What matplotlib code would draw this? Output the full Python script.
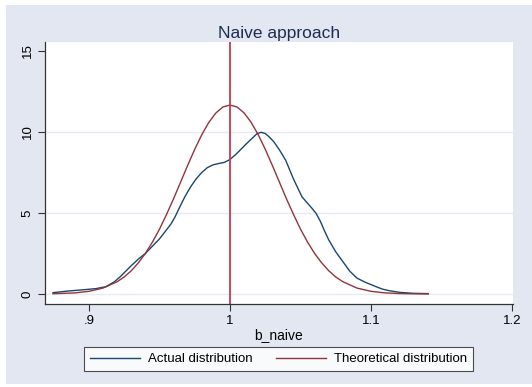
import numpy as np
import matplotlib
matplotlib.use('Agg')
from matplotlib import pyplot as plt
from matplotlib.patches import Rectangle

# 数据
actual_x = [0.8745, 0.885, 0.895, 0.905, 0.912, 0.918, 0.922, 0.926, 0.930, 0.935,
            0.940, 0.945, 0.950, 0.954, 0.958, 0.961, 0.964, 0.968, 0.972, 0.976,
            0.980, 0.984, 0.988, 0.992, 0.996, 1.000, 1.004, 1.008, 1.012, 1.015,
            1.019, 1.022, 1.025, 1.0277, 1.031, 1.035, 1.0395, 1.045, 1.048, 1.051,
            1.055, 1.058, 1.061, 1.064, 1.067, 1.070, 1.075, 1.080, 1.085, 1.090,
            1.096, 1.103, 1.108, 1.113, 1.120, 1.130, 1.1406]
actual_y = [0.08, 0.18, 0.25, 0.33, 0.45, 0.75, 1.05, 1.4, 1.75, 2.15,
            2.5, 2.95, 3.4, 3.85, 4.3, 4.75, 5.3, 6.0, 6.6, 7.1,
            7.5, 7.8, 7.97, 8.05, 8.12, 8.3, 8.6, 8.95, 9.3, 9.55,
            9.88, 9.98, 9.9, 9.7, 9.4, 8.9, 8.25, 7.1, 6.55, 6.0,
            5.6, 5.3, 4.98, 4.5, 3.9, 3.34, 2.6, 2.0, 1.4, 0.98,
            0.72, 0.47, 0.3, 0.2, 0.1, 0.04, 0.02]

theory_x = [0.8745, 0.89, 0.90, 0.91, 0.92, 0.925, 0.93, 0.935, 0.94, 0.945,
            0.95, 0.955, 0.96, 0.965, 0.97, 0.975, 0.98, 0.985, 0.99, 0.995,
            1.00, 1.005, 1.01, 1.015, 1.02, 1.025, 1.03, 1.035, 1.04, 1.045,
            1.05, 1.055, 1.06, 1.065, 1.07, 1.075, 1.08, 1.09, 1.10, 1.11,
            1.12, 1.13, 1.1406]
theory_y = [0.015, 0.066, 0.162, 0.365, 0.756, 1.05, 1.435, 1.92, 2.50, 3.20,
            4.00, 4.91, 5.88, 6.91, 7.94, 8.93, 9.83, 10.59, 11.17, 11.54,
            11.66, 11.54, 11.17, 10.59, 9.83, 8.93, 7.94, 6.91, 5.88, 4.91,
            4.00, 3.20, 2.50, 1.92, 1.435, 1.05, 0.756, 0.365, 0.162, 0.066,
            0.025, 0.008, 0.002]

x_ticks = [0.9, 1.0, 1.1, 1.2]
x_ticklabels = ['.9', '1', '1.1', '1.2']
y_ticks = [0, 5, 10, 15]
xline = 1.0

plt.rcParams['font.family'] = ['Liberation Sans', 'DejaVu Sans']

W, H = 532, 387
fig = plt.figure(figsize=(W / 100, H / 100), dpi=100)
fig.patch.set_facecolor('white')
bg = '#e2e7f1'
fig.patches.append(Rectangle((6 / W, 3 / H), 1 - 6 / W, 1 - 8 / H,
                             transform=fig.transFigure, facecolor=bg,
                             edgecolor='none', zorder=-10))

ax = fig.add_axes([45 / W, 1 - 304 / H, (513 - 45) / W, (304 - 42) / H])
ax.set_facecolor('white')

navy = '#1a476f'
maroon = '#90353b'

for yv in [0, 5, 10]:
    ax.axhline(yv, color='#e6eaf2', lw=1.0, zorder=0)

ax.plot(actual_x, actual_y, color=navy, lw=1.0, label='Actual distribution')
ax.plot(theory_x, theory_y, color=maroon, lw=1.0, label='Theoretical distribution')
ax.axvline(xline, color='#c43a52', lw=1.3)

ax.set_xlim(0.8688, 1.2007)
ax.set_ylim(-0.62, 15.55)

for s in ['top', 'right']:
    ax.spines[s].set_visible(False)
for s in ['left', 'bottom']:
    ax.spines[s].set_color('#333333')
    ax.spines[s].set_linewidth(0.9)

ax.set_xticks(x_ticks)
ax.set_xticklabels(x_ticklabels, fontsize=9.5)
ax.set_yticks(y_ticks)
ax.set_yticklabels([str(v) for v in y_ticks], fontsize=9.5, rotation=90, va='center')
ax.tick_params(length=5, width=0.8, color='#333333', pad=3)

ax.set_xlabel('b_naive', fontsize=10, labelpad=1)
ax.set_title('Naive approach', fontsize=12.5, color='#1e2d4f', pad=3)

leg = fig.legend(loc='center', bbox_to_anchor=((84 + 473) / 2 / W, 1 - 359 / H),
                 ncol=2, frameon=True, fancybox=False, fontsize=9.5,
                 handlelength=3.8, columnspacing=1.8, borderpad=0.45,
                 handletextpad=0.55)
leg.get_frame().set_edgecolor('#222222')
leg.get_frame().set_linewidth(0.8)

plt.savefig('out.png', dpi=100, facecolor=fig.get_facecolor())
